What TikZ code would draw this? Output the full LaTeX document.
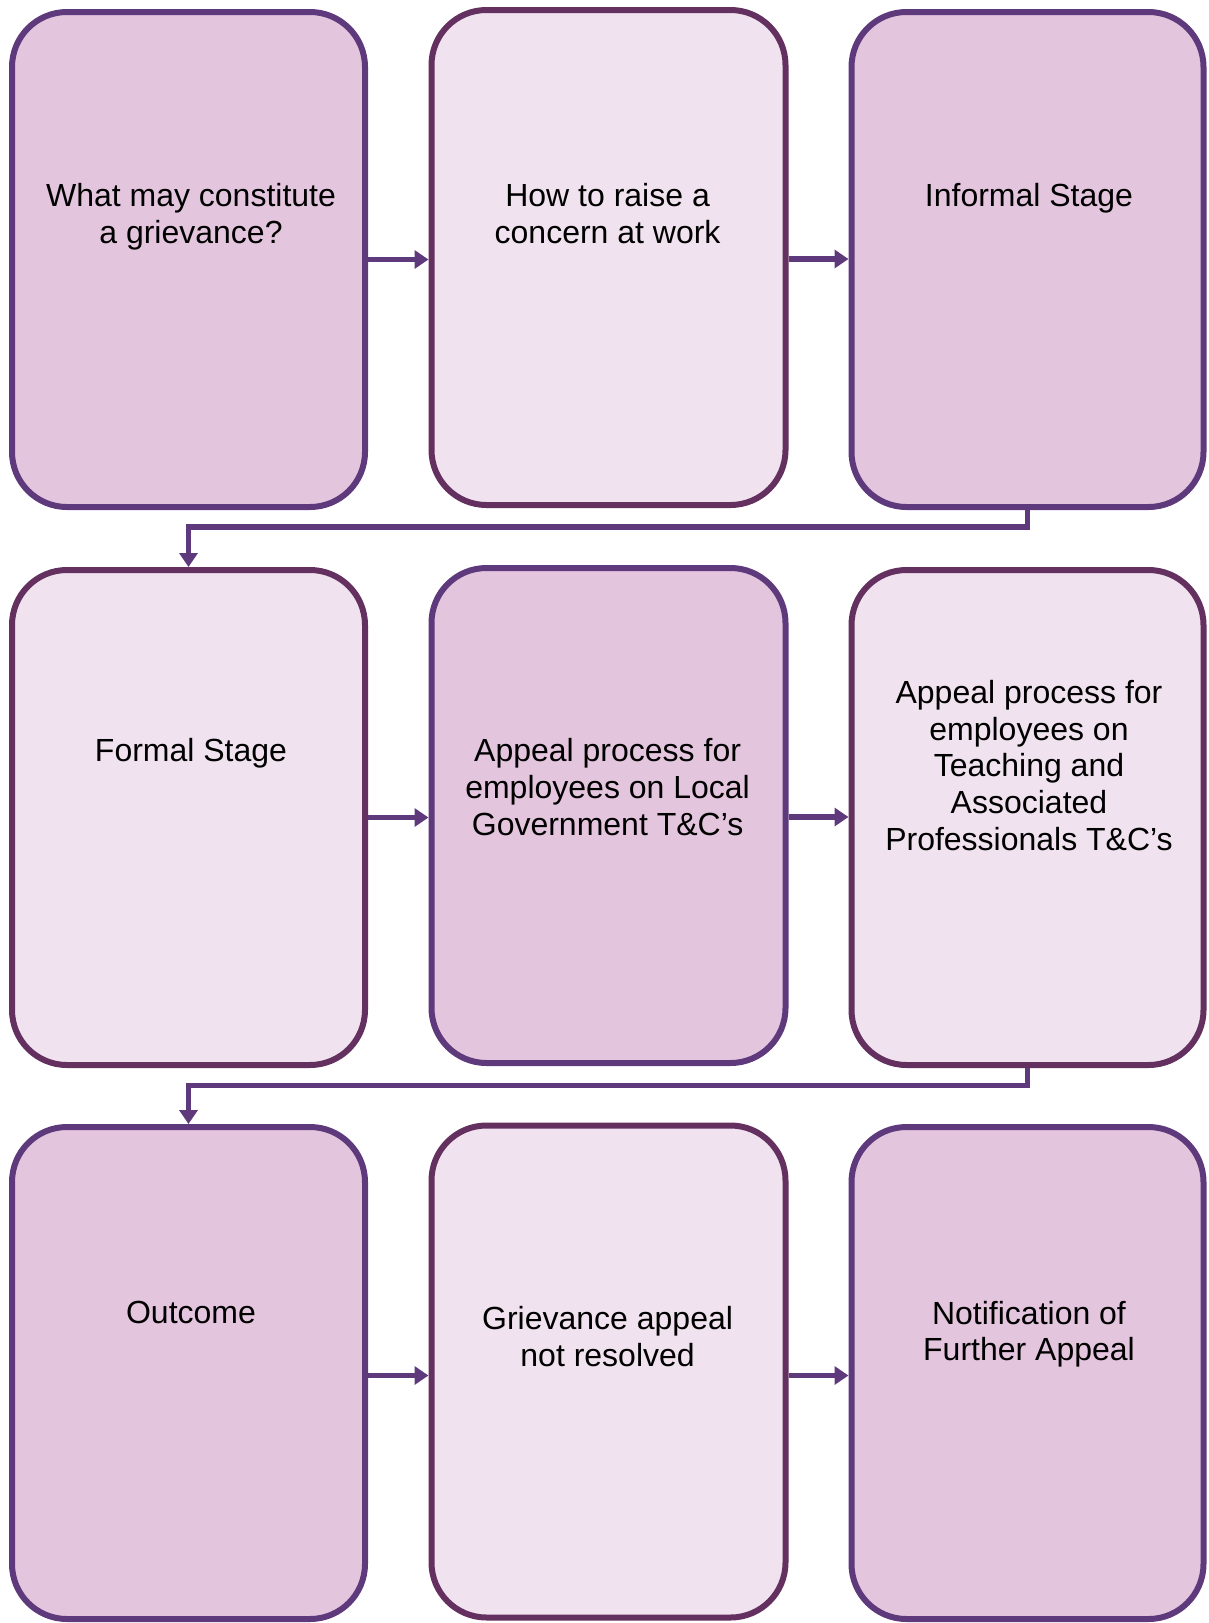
\documentclass[tikz,border=0pt]{standalone}
\usepackage{fontspec}
\setmainfont{Liberation Sans}
\usetikzlibrary{arrows.meta,calc}
\definecolor{darkfill}{HTML}{E4C5DE}
\definecolor{lightfill}{HTML}{F0E2EE}
\definecolor{darkline}{HTML}{5E3A7C}
\definecolor{lightline}{HTML}{63305F}
\definecolor{connline}{HTML}{5E3A7C}
\begin{document}
\begin{tikzpicture}[x=1pt,y=-1pt,
  box/.style={rectangle, rounded corners=55pt, line width=6pt, minimum width=353pt, minimum height=495pt, inner sep=0pt},
  darkbox/.style={box, draw=darkline, fill=darkfill},
  lightbox/.style={box, draw=lightline, fill=lightfill},
  lbl/.style={anchor=north, align=center, inner sep=0pt, font=\fontsize{32}{36.7}\selectfont},
  connector/.style={draw=connline, line width=5.5pt, -{Triangle[length=14pt,width=18pt]}}]
\useasboundingbox (0,0) rectangle (1208,1623);
% boxes
\node[darkbox] (b1) at (188.5,259.5) {};
\node[lightbox, minimum width=354pt] (b2) at (608.5,257.5) {};
\node[darkbox, minimum width=352pt] (b3) at (1027.5,259.5) {};
\node[lightbox] (b4) at (188.5,817.5) {};
\node[darkbox, minimum width=354pt] (b5) at (608.5,815.5) {};
\node[lightbox, minimum width=352pt] (b6) at (1027.5,817.5) {};
\node[darkbox, minimum height=492pt] (b7) at (188.5,1373) {};
\node[lightbox, minimum width=354pt, minimum height=492pt] (b8) at (608.5,1371.5) {};
\node[darkbox, minimum width=352pt, minimum height=492pt] (b9) at (1027.5,1373) {};
% texts
\node[lbl] (t1) at (191,183) {What may constitute\\a grievance?};
\node[lbl] (t2) at (607.6,183) {How to raise a\\concern at work};
\node[lbl] (t3) at (1029,183) {Informal Stage};
\node[lbl] (t4) at (191,738.5) {Formal Stage};
\node[lbl] (t5) at (607.6,738.3) {Appeal process for\\employees on Local\\Government T\&C’s};
\node[lbl] (t6) at (1029,680) {Appeal process for\\employees on\\Teaching and\\Associated\\Professionals T\&C’s};
\node[lbl] (t7) at (191,1301) {Outcome};
\node[lbl] (t8) at (607.6,1306) {Grievance appeal\\not resolved};
\node[lbl] (t9) at (1029,1300.7) {Notification of\\Further Appeal};
% connectors
\draw[connector] (b1.east) -- (b1.east -| b2.west);
\draw[connector] ($(b2.east)+(0,1.5)$) -- ($(b2.east -| b3.west)+(0,1.5)$);
\draw[connector] (b4.east) -- (b4.east -| b5.west);
\draw[connector] ($(b5.east)+(0,1.5)$) -- ($(b5.east -| b6.west)+(0,1.5)$);
\draw[connector] ($(b7.east)+(0,2.5)$) -- ($(b7.east -| b8.west)+(0,2.5)$);
\draw[connector] ($(b8.east)+(0,4)$) -- ($(b8.east -| b9.west)+(0,4)$);
\draw[connector] (b3.south) -- ++(0,17) -| (b4.north);
\draw[connector] (b6.south) -- ++(0,17.7) -| (b7.north);
\end{tikzpicture}
\end{document}
